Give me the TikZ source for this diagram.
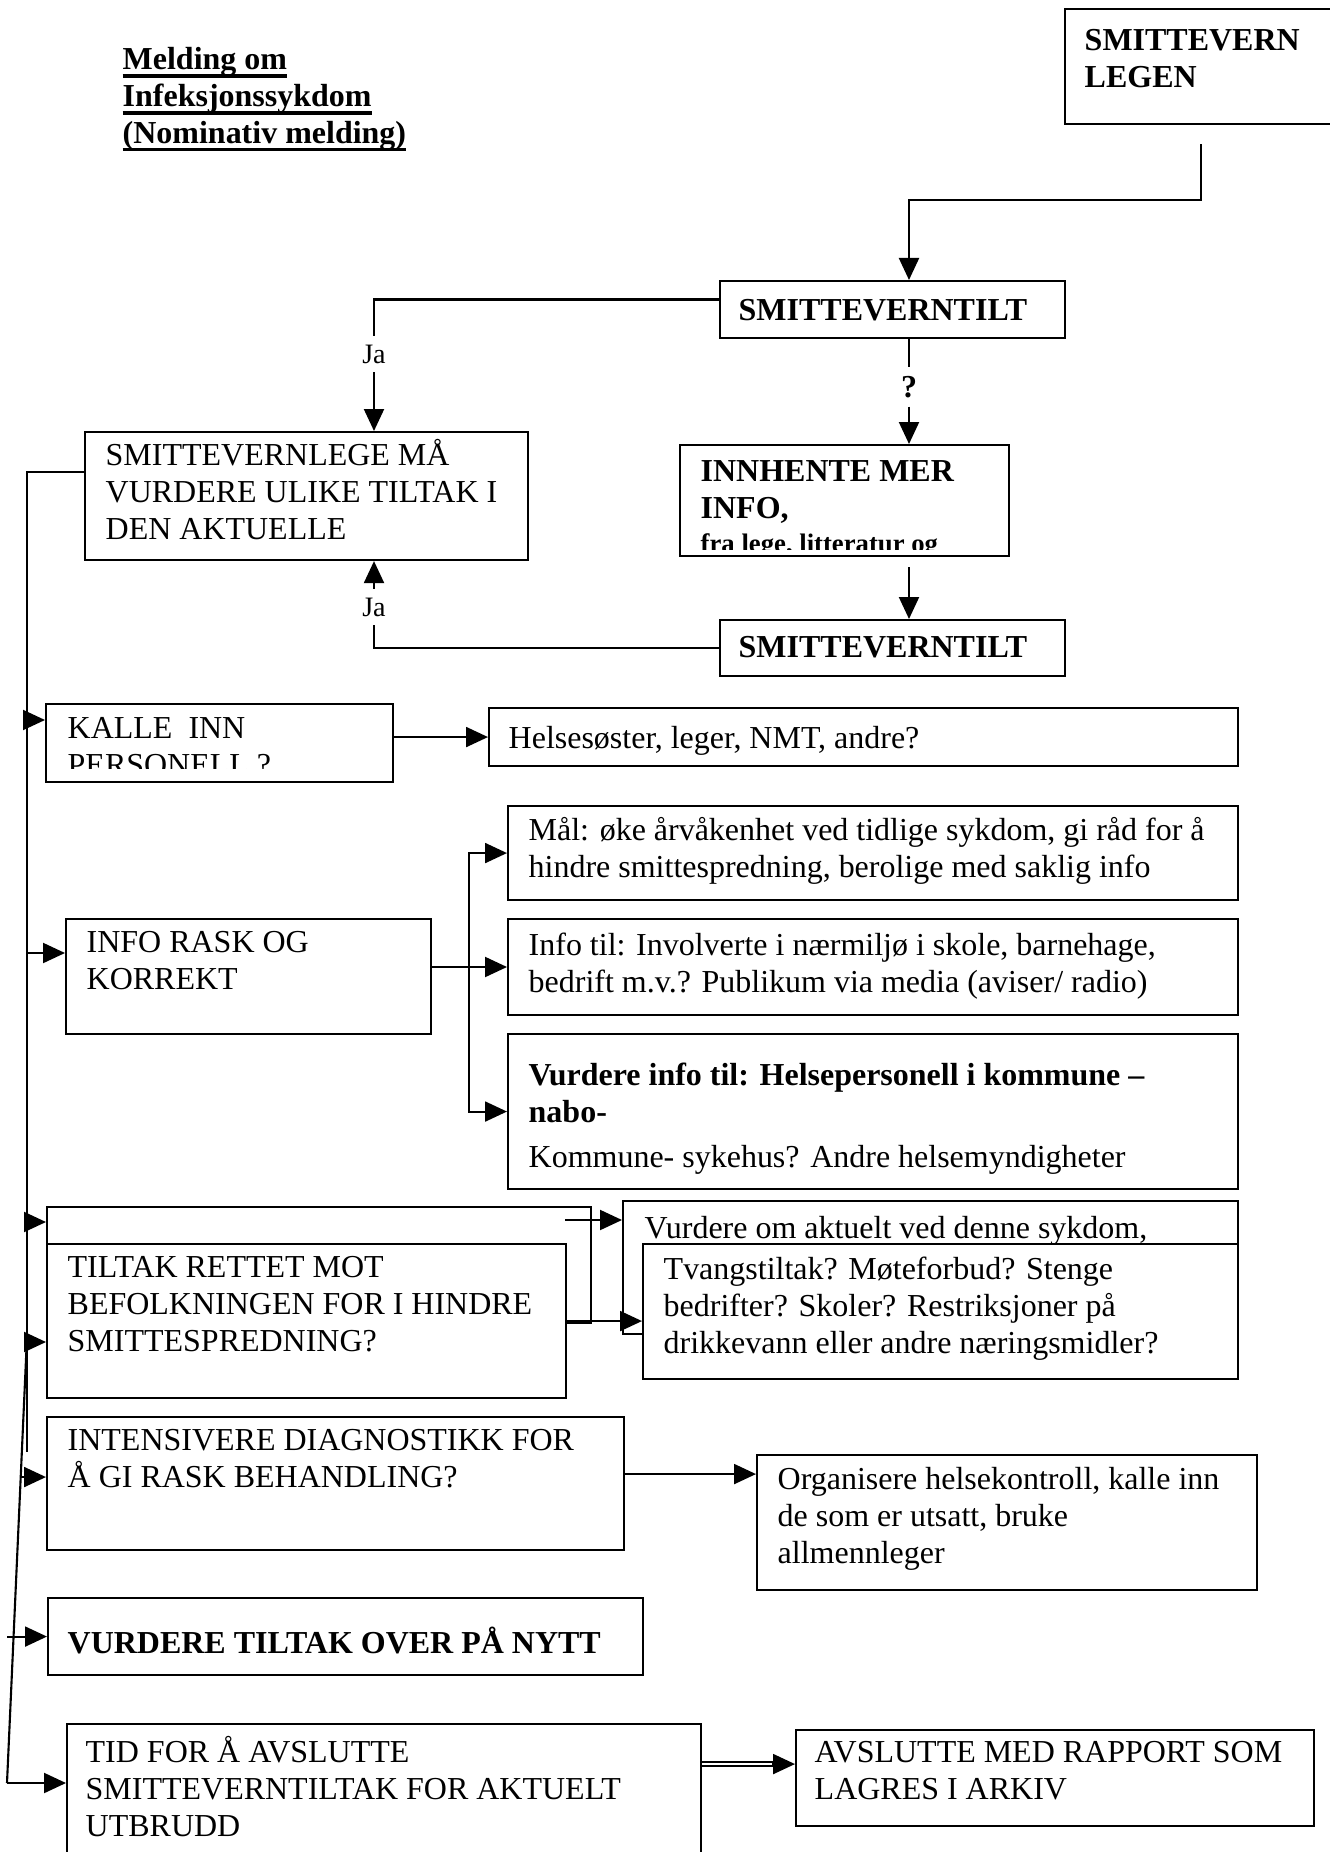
\documentclass[tikz,border=0pt]{standalone}
\usepackage{fontspec}
\setmainfont{Liberation Serif}
\usetikzlibrary{arrows.meta,calc}
\newcommand{\boksfont}{\fontsize{9.1pt}{10.5pt}\selectfont}
\newcommand{\smaafont}{\fontsize{7.6pt}{9pt}\selectfont\bfseries}
\newcommand{\jafont}{\fontsize{8pt}{9pt}\selectfont}
\newsavebox{\strekboks}
\newcommand{\strek}[1]{\sbox{\strekboks}{#1}\rlap{\rule[-2.2pt]{\wd\strekboks}{0.9pt}}\usebox{\strekboks}}
\begin{document}
\begin{tikzpicture}[x=0.1mm,y=-0.1mm,
  boks/.style={draw, line width=0.6pt, fill=white, anchor=north west, inner sep=0pt},
  tekst/.style={anchor=north west, inner sep=0pt, align=left, font=\boksfont, execute at begin node=\strut},
  pil/.style={line width=0.6pt, -{Triangle[length=2.2mm,width=2mm]}},
  linje/.style={line width=0.6pt},
  ja/.style={font=\jafont, inner sep=0.8mm}]
\useasboundingbox (0,0) rectangle (1330,1852);
\fill[white] (0,0) rectangle (1330,1852);
\clip (0,0) rectangle (1330,1852);

% overskrift
\node[tekst, font=\boksfont\bfseries] (tittel) at (122,47)
  {\strek{Melding om}\\\strek{Infeksjonssykdom}\\\strek{(Nominativ melding)}};

% toppen
\node[boks, minimum width=27.2mm, minimum height=11.5mm] (legen) at (1064,8) {};
\node[tekst, font=\boksfont\bfseries] (legen-t) at (1084,29) {SMITTEVERN\\LEGEN};
\node[boks, minimum width=34.5mm, minimum height=5.7mm] (tilt1) at (719,280) {};
\node[tekst, font=\boksfont\bfseries] (tilt1-t) at (738,294) {SMITTEVERNTILT};
\node[boks, minimum width=32.9mm, minimum height=11.1mm] (innhente) at (679,444) {};
\node[tekst, font=\boksfont\bfseries] (innhente-t) at (700,460) {INNHENTE MER\\INFO,};
\begin{scope}
  \clip (679,444) rectangle (1008,549);
  \node[anchor=base west, inner sep=0pt, font=\smaafont] (innhente-k) at (700,552) {fra lege, litteratur og};
\end{scope}
\node[boks, minimum width=34.5mm, minimum height=5.6mm] (tilt2) at (719,619) {};
\node[tekst, font=\boksfont\bfseries] (tilt2-t) at (738,631) {SMITTEVERNTILT};
\node[boks, minimum width=44.3mm, minimum height=12.8mm] (vurder) at (84,431) {};
\node[tekst] (vurder-t) at (105,439) {SMITTEVERNLEGE MÅ\\VURDERE ULIKE TILTAK I\\DEN AKTUELLE};

% tiltakene
\node[boks, minimum width=34.7mm, minimum height=7.8mm] (kalle) at (45,703) {};
\begin{scope}
  \clip (45,703) rectangle (392,768);
  \node[tekst] (kalle-t) at (67,717) {KALLE\ \ INN\\PERSONELL ?};
\end{scope}
\node[boks, minimum width=74.9mm, minimum height=5.8mm] (helse) at (488,707) {};
\node[tekst] (helse-t) at (508,722) {Helsesøster, leger, NMT, andre?};

\node[boks, minimum width=36.5mm, minimum height=11.5mm] (info) at (65,918) {};
\node[tekst] (info-t) at (86,931) {INFO RASK OG\\KORREKT};
\node[boks, minimum width=73mm, minimum height=9.4mm] (maal) at (507,805) {};
\node[tekst] (maal-t) at (528,817) {Mål: øke årvåkenhet ved tidlige sykdom, gi råd for å\\hindre smittespredning, berolige med saklig info};
\node[boks, minimum width=73mm, minimum height=9.6mm] (infotil) at (507,918) {};
\node[tekst] (infotil-t) at (528,932) {Info til: Involverte i nærmiljø i skole, barnehage,\\bedrift m.v.? Publikum via media (aviser/ radio)};
\node[boks, minimum width=73mm, minimum height=15.5mm] (vurdinfo) at (507,1033) {};
\node[tekst] (vurdinfo-t) at (528,1062) {\textbf{Vurdere info til: Helsepersonell i kommune –}\\\textbf{nabo-}\\[0.8mm]Kommune- sykehus? Andre helsemyndigheter};

\node[boks, minimum width=54.4mm, minimum height=11.6mm] (kilde) at (46,1206) {};
\node[boks, minimum width=61.5mm, minimum height=13.3mm] (vurderom) at (622,1200) {};
\node[tekst] (vurderom-t) at (644,1212) {Vurdere om aktuelt ved denne sykdom,};
\node[boks, minimum width=51.9mm, minimum height=15.4mm] (tiltak) at (46,1243) {};
\node[tekst] (tiltak-t) at (67,1256) {TILTAK RETTET MOT\\BEFOLKNINGEN FOR I HINDRE\\SMITTESPREDNING?};
\node[boks, minimum width=59.5mm, minimum height=13.5mm] (tvang) at (642,1243) {};
\node[tekst] (tvang-t) at (663,1256) {Tvangstiltak? Møteforbud? Stenge\\bedrifter? Skoler? Restriksjoner på\\drikkevann eller andre næringsmidler?};

\node[boks, minimum width=57.7mm, minimum height=13.3mm] (intens) at (46,1416) {};
\node[tekst] (intens-t) at (67,1429) {INTENSIVERE DIAGNOSTIKK FOR\\Å GI RASK BEHANDLING?};
\node[boks, minimum width=50mm, minimum height=13.5mm] (organ) at (756,1454) {};
\node[tekst] (organ-t) at (777,1467) {Organisere helsekontroll, kalle inn\\de som er utsatt, bruke\\allmennleger};

\node[boks, minimum width=59.5mm, minimum height=7.7mm] (nytt) at (47,1597) {};
\node[tekst, font=\boksfont\bfseries] (nytt-t) at (67,1626) {VURDERE TILTAK OVER PÅ NYTT};

\node[boks, minimum width=63.4mm, minimum height=15.2mm] (tid) at (66,1723) {};
\node[tekst] (tid-t) at (85,1736) {TID FOR Å AVSLUTTE\\SMITTEVERNTILTAK FOR AKTUELT\\UTBRUDD};
\node[boks, minimum width=51.8mm, minimum height=9.6mm] (avslutt) at (795,1729) {};
\node[tekst] (avslutt-t) at (814,1741) {AVSLUTTE MED RAPPORT SOM\\LAGRES I ARKIV};

% piler oppe
\coordinate (midcol) at (909,0);
\draw[pil] ([yshift=-1.9mm]legen.south) -- ++(0,56) -| (midcol |- tilt1.north);
\node[ja] (ja1) at (374,354) {Ja};
\draw[linje] ([yshift=1mm]tilt1.west) -| (ja1.north);
\draw[pil] (ja1.south) -- (ja1.south |- vurder.north);
\node[ja, font=\boksfont\bfseries] (spm) at (909,387) {?};
\draw[linje] (midcol |- tilt1.south) -- (spm.north);
\draw[pil] (spm.south) -- (midcol |- innhente.north);
\draw[pil] ([yshift=-1mm]midcol |- innhente.south) -- (midcol |- tilt2.north);
\node[ja] (ja2) at (374,607) {Ja};
\draw[linje] (tilt2.west) -| (ja2.south);
\draw[pil] (ja2.north) -- (ja2.north |- vurder.south);

% ryggen til venstre
\coordinate (spinetop) at (27,472);
\coordinate (spinebot) at (27,1452);
\coordinate (slanttop) at (27,1337);
\coordinate (slantbot) at (7,1783);
\draw[linje] (vurder.west |- spinetop) -- (spinetop) -- (spinebot);
\draw[linje] (slanttop) -- (slantbot);
\coordinate (a-kalle) at (27,720);
\coordinate (a-info) at (27,953);
\coordinate (a-kilde) at (27,1222);
\coordinate (a-tiltak) at (27,1342);
\coordinate (a-intens) at ($(slanttop)!0.314!(slantbot)$);
\draw[pil] (a-kalle) -- (a-kalle -| kalle.west);
\draw[pil] (a-info) -- (a-info -| info.west);
\draw[pil] (a-kilde) -- (a-kilde -| kilde.west);
\draw[pil] (a-tiltak) -- (a-tiltak -| tiltak.west);
\draw[pil] (a-intens) -- (a-intens -| intens.west);
\draw[pil] (slantbot |- nytt.west) -- (nytt.west);
\draw[pil] (slantbot) -- (slantbot -| tid.west);

% piler til hoyre
\draw[pil] (kalle.east |- helse.west) -- (helse.west);
\coordinate (fork) at (469,967);
\draw[linje] (info.east |- fork) -- (fork);
\draw[pil] (fork) |- (maal.west);
\draw[pil] (fork) -- (fork -| infotil.west);
\draw[pil] (fork) |- (vurdinfo.west);
\coordinate (k1) at (565,1220);
\draw[pil] (k1) -- (k1 -| vurderom.west);
\draw[pil] (tiltak.east) -- (tiltak.east -| tvang.west);
\coordinate (i1) at ([yshift=0.95mm]intens.east);
\draw[pil] (i1) -- (i1 -| organ.west);
\coordinate (t1) at ([yshift=1.4mm]avslutt.west);
\draw[line width=0.6pt, double, double distance=0.6pt] (t1 -| tid.east) -- ([xshift=-2mm]t1);
\draw[pil] ([xshift=-2.3mm]t1) -- (t1);
\end{tikzpicture}
\end{document}
